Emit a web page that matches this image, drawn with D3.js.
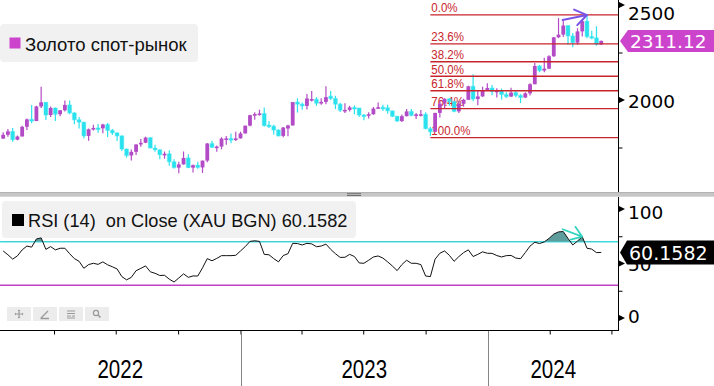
<!DOCTYPE html>
<html><head><meta charset="utf-8">
<script src="https://cdn.jsdelivr.net/npm/d3@7"></script>
<style>
body{margin:0;background:#fff;}
svg{display:block;font-family:"Liberation Sans",Arial,sans-serif;}
</style>
</head><body>
<svg id="c" width="714" height="386"></svg>
<script>
// ---------------- DATA ----------------
const firstWeek = "2022-01-16"; // week-ending date of first weekly bar
const opens  = [1797,1817,1835,1791,1808,1859,1898,1889,1966,1988,1921,1958,1925,1946,1974,1932,1896,1883,1811,1846,1853,1851,1871,1840,1827,1811,1742,1708,1727,1766,1775,1802,1747,1738,1712,1717,1675,1644,1661,1695,1644,1657,1645,1681,1771,1751,1755,1793,1797,1793,1798,1824,1865,1920,1926,1929,1868,1862,1842,1811,1850,1866,1989,1978,1969,1998,2004,1983,1990,2020,2008,1978,1946,1948,1961,1958,1921,1919,1925,1955,1962,1959,1943,1914,1889,1915,1940,1919,1924,1925,1849,1833,1932,1981,2006,1992,1940,1980,2001,2072,2005,2019,2053,2063,2045,2049,2029,2018,2039,2024,2013,2035,2083,2179,2155,2165,2230,2330,2344,2392,2337,2302,2361,2415,2334,2327,2293];
const highs  = [1830,1848,1853,1813,1865,1902,1974,1970,2070,1990,1966,1960,1948,1998,1998,1936,1910,1885,1850,1870,1874,1875,1879,1847,1830,1814,1745,1740,1767,1795,1807,1803,1765,1740,1729,1735,1688,1675,1729,1714,1660,1675,1681,1774,1786,1760,1804,1810,1824,1833,1833,1865,1922,1935,1949,1960,1890,1870,1846,1858,1870,1989,2009,1987,2032,2048,2015,2009,2072,2048,2022,1985,1983,1970,1971,1958,1926,1935,1963,1987,1975,1975,1944,1917,1924,1953,1953,1932,1947,1936,1858,1933,1997,2009,2009,1993,1993,2007,2075,2135,2047,2070,2088,2079,2062,2060,2041,2065,2048,2031,2041,2088,2195,2185,2223,2236,2331,2432,2418,2392,2352,2378,2422,2450,2364,2388,2313];
const lows   = [1796,1806,1780,1788,1808,1842,1878,1889,1958,1895,1910,1890,1915,1940,1925,1872,1850,1798,1786,1840,1828,1825,1805,1816,1784,1732,1697,1681,1711,1754,1773,1746,1727,1688,1691,1654,1639,1615,1660,1642,1618,1638,1616,1673,1747,1728,1740,1765,1773,1784,1797,1824,1862,1896,1918,1861,1853,1819,1808,1804,1809,1866,1934,1949,1950,1992,1969,1975,1978,2000,1952,1937,1932,1940,1925,1910,1893,1902,1922,1952,1942,1928,1910,1885,1884,1913,1915,1900,1913,1846,1810,1833,1908,1953,1970,1935,1931,1965,2001,1993,1973,2016,2052,2025,2013,2002,2011,2016,2015,1984,2011,2024,2083,2146,2146,2163,2228,2326,2331,2291,2277,2291,2334,2325,2320,2286,2290];
const closes = [1817,1835,1791,1808,1859,1898,1889,1966,1988,1921,1958,1925,1946,1974,1932,1896,1883,1811,1846,1853,1851,1871,1840,1827,1811,1742,1708,1727,1766,1775,1802,1747,1738,1712,1717,1675,1644,1661,1695,1644,1657,1645,1681,1771,1751,1755,1797,1798,1793,1798,1824,1865,1920,1926,1929,1865,1862,1842,1811,1855,1866,1989,1978,1969,2008,2005,1983,1990,2015,2008,1978,1946,1948,1961,1958,1921,1919,1925,1955,1962,1959,1943,1914,1889,1915,1940,1919,1924,1925,1849,1833,1932,1981,2006,1992,1940,1980,2001,2072,2005,2019,2053,2063,2045,2049,2029,2018,2039,2024,2013,2035,2083,2179,2155,2165,2230,2330,2344,2392,2337,2302,2361,2415,2334,2327,2293,2311.12];
const rsiValues = [61.5,58,54,57,62.5,66,65,72.5,73.5,63,65.5,62.5,64,64,59,54.5,52,45.6,49,50.2,49.2,51.5,48.8,47,45,38,35,37.3,43.4,45.5,47.8,42.4,41,39,39.2,35.6,33,36.7,40.5,37.3,38.6,38.5,46,54.5,52.5,54.7,57.2,57.2,57.2,57.5,61.5,65.5,70.3,70.8,70.3,58.4,58,54.5,51.5,57.3,59,68.5,68.3,67,68.5,68,65.4,66,67.8,63,59,55.6,55.7,58.4,56.4,50.5,50.2,53,56,56.9,55,51.5,47.7,43.5,49,53,50.2,50.2,49,38.5,38,54,59.4,61.5,57.5,52,56.3,60,62.5,56.4,58.4,60.7,59.4,59.3,57.3,56,57.2,57.4,55,54.4,60,66,69.5,68.3,69.8,73,77,79,79.3,73,67,70.6,74.6,64,63.2,60,60.1582];

const priceTicks = [2000, 2500];
const priceMinor = [1750, 2250];
const rsiTicks = [0, 50, 100];
const rsiMinor = [25, 75];
const rsiBands = [30, 70];
const fibLevels = [0, 23.6, 38.2, 50, 61.8, 76.4, 100];
const fibHighPrice = 2448, fibLowPrice = 1802;
const fibStart = "2023-10-08";
const quarterTicks = ["2022-04-01","2022-07-01","2022-10-01","2023-01-01","2023-04-01","2023-07-01","2023-10-01","2024-01-01","2024-04-01","2024-07-01"];
const years = ["2022","2023","2024"];
const lastPrice = "2311.12";
const lastRsi = "60.1582";
const priceArrow = [["2024-04-20", 2421], ["2024-05-26", 2447]];
const rsiArrow = [["2024-04-20", 81.4], ["2024-05-19", 74.6]];
const seriesName = "Золото спот-рынок";
const rsiName = "RSI (14)  on Close (XAU BGN) 60.1582";

// ---------------- SETUP ----------------
const MAG = "#b44bc6", CYAN = "#2ae2ee", LABELMAG = "#cc44cc", FIB = "#c8242c";
const svg = d3.select("#c");
const pd = s => new Date(s + "T00:00");
const n = closes.length;
const dates = d3.range(n).map(i => d3.timeDay.offset(pd(firstWeek), 7 * i));

const x = d3.scaleTime().domain([pd("2023-01-01"), pd("2024-01-01")]).range([240.5, 488]);
const y = d3.scaleLinear().domain([2000, 2500]).range([100, 5]);
const yr = d3.scaleLinear().domain([0, 100]).range([318, 209]);
const AX = 618.5;

function narrowText(g, tx, ty, str, size, anchor, sx, fill) {
  return g.append("text").attr("transform", `translate(${tx},${ty}) scale(${sx},1)`)
    .attr("text-anchor", anchor).attr("font-size", size).attr("fill", fill || "#000").text(str);
}
function arrow(g, x1, y1, x2, y2, color, len, ang, w) {
  const a = Math.atan2(y1 - y2, x1 - x2);
  const p = `M${x1},${y1}L${x2},${y2}` +
    `M${x2 + len * Math.cos(a - ang)},${y2 + len * Math.sin(a - ang)}L${x2},${y2}` +
    `L${x2 + len * Math.cos(a + ang)},${y2 + len * Math.sin(a + ang)}`;
  g.append("path").attr("d", p).attr("fill", "none").attr("stroke", color)
    .attr("stroke-width", w).attr("stroke-linecap", "round").attr("stroke-linejoin", "round");
}

// ---------------- TOP PANEL ----------------
const tp = svg.append("g");
tp.append("rect").attr("x", 0).attr("y", 24).attr("width", 198).attr("height", 38).attr("rx", 4).attr("fill", "#f1f1f1");
tp.append("rect").attr("x", 9.5).attr("y", 37.5).attr("width", 11).attr("height", 11).attr("fill", LABELMAG);
tp.append("text").attr("x", 25).attr("y", 50.5).attr("font-size", 18.5).attr("fill", "#111").text(seriesName);

const fx0 = x(pd(fibStart));
const fibPrice = l => fibHighPrice - (fibHighPrice - fibLowPrice) * l / 100;
fibLevels.forEach(l => {
  narrowText(tp, fx0 + 1, y(fibPrice(l)) - 2.5, l.toFixed(1) + "%", 12.8, "start", 0.9, FIB);
});

const cg = tp.append("g");
const isUp = i => closes[i] >= opens[i];
cg.selectAll("line").data(d3.range(n)).join("line")
  .attr("x1", i => x(dates[i])).attr("x2", i => x(dates[i]))
  .attr("y1", i => y(highs[i])).attr("y2", i => y(lows[i]))
  .attr("stroke", i => isUp(i) ? MAG : CYAN).attr("stroke-width", 1.2);
cg.selectAll("rect").data(d3.range(n)).join("rect")
  .attr("x", i => x(dates[i]) - 1.9).attr("width", 3.8)
  .attr("y", i => y(Math.max(opens[i], closes[i])))
  .attr("height", i => Math.max(1.6, Math.abs(y(opens[i]) - y(closes[i]))))
  .attr("fill", i => isUp(i) ? MAG : CYAN)
  .attr("stroke", i => isUp(i) ? "none" : "rgba(60,230,240,0.35)").attr("stroke-width", 1.2);

fibLevels.forEach(l => {
  tp.append("line").attr("x1", fx0).attr("x2", AX).attr("y1", y(fibPrice(l))).attr("y2", y(fibPrice(l)))
    .attr("stroke", FIB).attr("stroke-width", 1.3);
});

arrow(tp, x(pd(priceArrow[0][0])), y(priceArrow[0][1]), x(pd(priceArrow[1][0])), y(priceArrow[1][1]), "#7a52e6", 14, 0.6, 2);

tp.append("line").attr("x1", AX).attr("x2", AX).attr("y1", 0).attr("y2", 192).attr("stroke", "#000");
const pAxis = tp.append("g").attr("transform", `translate(${AX},0)`)
  .call(d3.axisRight(y).tickValues(priceTicks).tickSize(0).tickPadding(9.5).tickFormat(d3.format("d")));
pAxis.select(".domain").remove();
pAxis.selectAll("text").attr("font-family", "DejaVu Sans").attr("font-size", 18.5).attr("fill", "#000")
  .attr("dy", d => d === 2500 ? "0.78em" : "0.38em");
tp.append("g").attr("transform", `translate(${AX},0)`)
  .call(d3.axisRight(y).tickValues(priceMinor).tickSize(4).tickFormat(""))
  .call(g => g.select(".domain").remove());
priceTicks.forEach(v => tp.append("path").attr("d", `M${AX},${y(v) - 3.2}L${AX + 6.5},${y(v)}L${AX},${y(v) + 3.2}Z`).attr("fill", "#000"));

const ply = y(2311.12);
tp.append("path").attr("d", `M620,${ply}L628,${ply - 11}L714,${ply - 11}L714,${ply + 11}L628,${ply + 11}Z`).attr("fill", LABELMAG);
tp.append("text").attr("x", 630).attr("y", ply + 6.8).attr("font-family", "DejaVu Sans").attr("font-size", 18.5)
  .attr("fill", "#fff").text(lastPrice);

// ---------------- SEPARATOR ----------------
svg.append("rect").attr("x", 0).attr("y", 192.3).attr("width", 714).attr("height", 4.4).attr("fill", "#c6c6c6");
svg.append("line").attr("x1", 0).attr("x2", 714).attr("y1", 192.5).attr("y2", 192.5).attr("stroke", "#b2b2b2");
[193.7, 195.5].forEach(yy => svg.append("line").attr("x1", 347).attr("x2", 361).attr("y1", yy).attr("y2", yy).attr("stroke", "#6f6f6f").attr("stroke-width", 1));

// ---------------- RSI PANEL ----------------
const rp = svg.append("g");
rp.append("rect").attr("x", 2).attr("y", 201).attr("width", 354).attr("height", 37).attr("rx", 4).attr("fill", "#f1f1f1");
rp.append("rect").attr("x", 12).attr("y", 214).attr("width", 12).attr("height", 12).attr("fill", "#000");
rp.append("text").attr("x", 28).attr("y", 227).attr("font-size", 18.2).attr("fill", "#111")
  .style("white-space", "pre").text(rsiName);

rp.append("line").attr("x1", 0).attr("x2", AX).attr("y1", yr(rsiBands[1])).attr("y2", yr(rsiBands[1])).attr("stroke", "#3fdbe2").attr("stroke-width", 1.4);
rp.append("line").attr("x1", 0).attr("x2", AX).attr("y1", yr(rsiBands[0])).attr("y2", yr(rsiBands[0])).attr("stroke", "#c040c6").attr("stroke-width", 1.4);

svg.append("clipPath").attr("id", "ob").append("rect").attr("x", 0).attr("y", 197).attr("width", AX).attr("height", yr(70) - 197);
rp.append("path").datum(d3.range(n)).attr("clip-path", "url(#ob)")
  .attr("d", d3.area().x(i => x(dates[i])).y0(yr(70)).y1(i => yr(rsiValues[i])))
  .attr("fill", "#5f9d9d");

rp.append("path").datum(d3.range(n))
  .attr("d", d3.line().x(i => x(dates[i])).y(i => yr(rsiValues[i])))
  .attr("fill", "none").attr("stroke", "#111").attr("stroke-width", 1);

arrow(rp, x(pd(rsiArrow[0][0])), yr(rsiArrow[0][1]), x(pd(rsiArrow[1][0])), yr(rsiArrow[1][1]), "#33d3bf", 12, 0.6, 1.8);

rp.append("line").attr("x1", AX).attr("x2", AX).attr("y1", 197).attr("y2", 331).attr("stroke", "#000");
const rAxis = rp.append("g").attr("transform", `translate(${AX},0)`)
  .call(d3.axisRight(yr).tickValues(rsiTicks).tickSize(0).tickPadding(9.5).tickFormat(d3.format("d")));
rAxis.select(".domain").remove();
rAxis.selectAll("text").attr("font-family", "DejaVu Sans").attr("font-size", 18.5).attr("fill", "#000")
  .attr("dy", d => d === 100 ? "0.5em" : d === 0 ? "0.22em" : "0.4em");
rp.append("g").attr("transform", `translate(${AX},0)`)
  .call(d3.axisRight(yr).tickValues(rsiMinor).tickSize(4).tickFormat(""))
  .call(g => g.select(".domain").remove());
rsiTicks.forEach(v => rp.append("path").attr("d", `M${AX},${yr(v) - 3.2}L${AX + 6.5},${yr(v)}L${AX},${yr(v) + 3.2}Z`).attr("fill", "#000"));

const rly = yr(60.1582);
rp.append("path").attr("d", `M620,${rly}L627,${rly - 12}L714,${rly - 12}L714,${rly + 12}L627,${rly + 12}Z`).attr("fill", "#000");
rp.append("text").attr("x", 629).attr("y", rly + 7.5).attr("font-family", "DejaVu Sans").attr("font-size", 19)
  .attr("fill", "#fff").text(lastRsi);

const tb = rp.append("g");
[7, 33, 59, 85].forEach(bx => tb.append("rect").attr("x", bx).attr("y", 307).attr("width", 24).attr("height", 14).attr("fill", "#ececec"));
const ic = "#9a9a9a";
tb.append("path").attr("d", "M19,310.5V317.5M15.5,314H22.5").attr("stroke", ic).attr("stroke-width", 1.2);
tb.append("path").attr("d", "M19,309.5l-1.5,1.5h3zM19,318.5l-1.5,-1.5h3zM14.5,314l1.5,-1.5v3zM23.5,314l-1.5,-1.5v3z").attr("fill", ic);
tb.append("path").attr("d", "M41,318L48,311M40.5,318.5H49").attr("stroke", ic).attr("stroke-width", 1.3);
tb.append("path").attr("d", "M67,311H75M67,313.5H75M67,316H71M72,316H75M67,318H75").attr("stroke", ic).attr("stroke-width", 1);
tb.append("circle").attr("cx", 96).attr("cy", 313).attr("r", 2.6).attr("fill", "none").attr("stroke", ic).attr("stroke-width", 1.2);
tb.append("path").attr("d", "M98,315L100.5,317.5").attr("stroke", ic).attr("stroke-width", 1.6);

// ---------------- X AXIS ----------------
const xa = svg.append("g").attr("transform", "translate(0,330.5)")
  .call(d3.axisBottom(x).tickValues(quarterTicks.map(pd)).tickSize(4).tickFormat(""));
xa.select(".domain").remove();
xa.selectAll("line").attr("stroke", "#000");
svg.append("line").attr("x1", 0).attr("x2", AX + 0.5).attr("y1", 330.5).attr("y2", 330.5).attr("stroke", "#000");
const yb = [0, x(pd("2023-01-01")), x(pd("2024-01-01")), AX];
[1, 2].forEach(k => svg.append("line").attr("x1", Math.round(yb[k]) + 0.5).attr("x2", Math.round(yb[k]) + 0.5)
  .attr("y1", 331).attr("y2", 386).attr("stroke", "#858585"));
years.forEach((yrs, k) => narrowText(svg, (yb[k] + yb[k + 1]) / 2, 378, yrs, 25, "middle", 0.82, "#000"));
</script>
</body></html>
